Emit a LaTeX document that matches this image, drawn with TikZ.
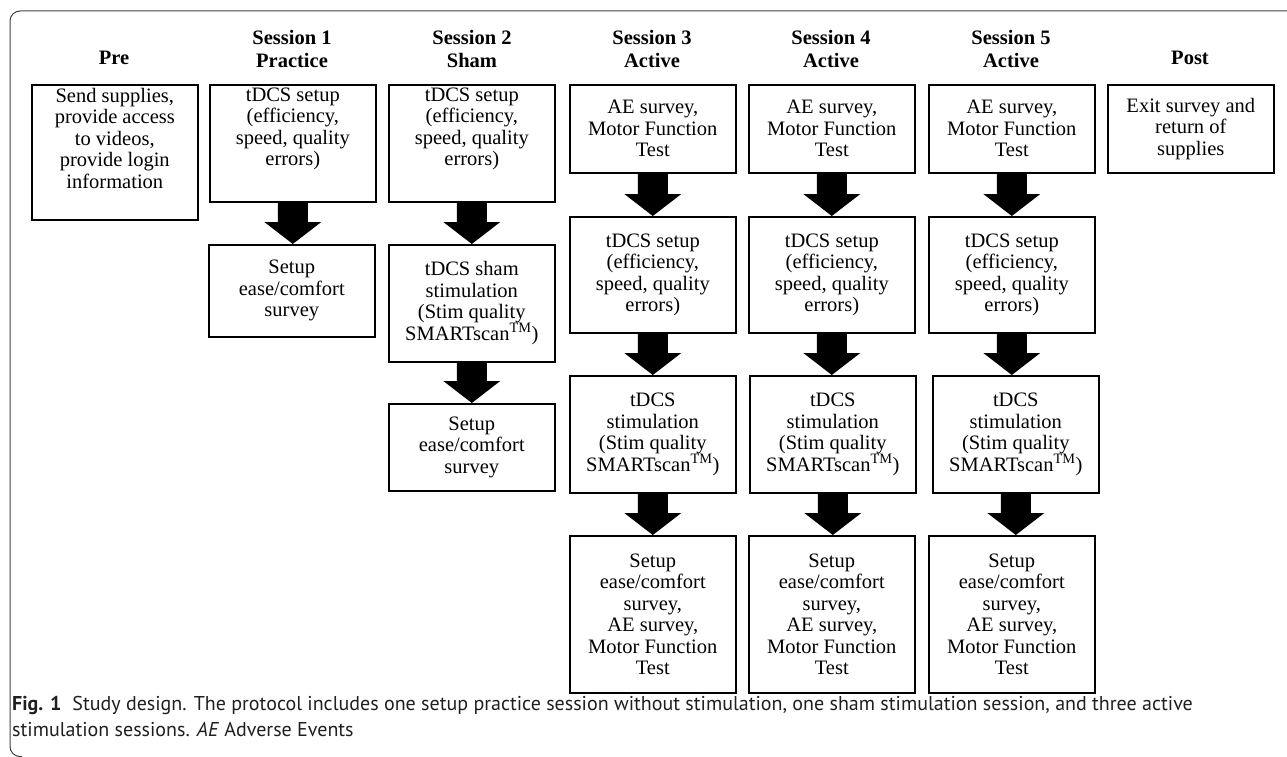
\documentclass[tikz,border=0pt]{standalone}
\usepackage{fontspec}
\setmainfont{Liberation Serif}
\newfontfamily\capfont{PT Sans}
\usetikzlibrary{calc}
% top-aligned box
\newcommand\bx[5]{\node[box] (#1) at (#2,#3) {\parbox[c][#4pt][t]{166pt}{\centering\vspace*{3pt}#5}};}
% vertically centred box
\newcommand\cbx[5]{\node[box, minimum width=166pt, minimum height=#4pt, align=center] (#1) at (#2,#3) {#5};}
\newcommand\bigarr[2]{\fill ($(#1.south)+(-15,0)$) -- ($(#1.south |- #2.north)+(-15,-22)$) -- ($(#1.south |- #2.north)+(-28.5,-22)$) -- (#1.south |- #2.north) -- ($(#1.south |- #2.north)+(28.5,-22)$) -- ($(#1.south |- #2.north)+(15,-22)$) -- ($(#1.south)+(15,0)$) -- cycle;}
\begin{document}
\begin{tikzpicture}[x=1pt,y=-1pt,
  box/.style={draw, line width=1.6pt, inner sep=0pt, anchor=north west, font=\fontsize{20.5}{21.5}\selectfont},
  head/.style={font=\fontsize{20.5}{23}\selectfont\bfseries, align=center, inner sep=0pt}]
\useasboundingbox (0,0) rectangle (1287,757);
\draw[line width=1pt, black!75, rounded corners=10pt] (1287,11) -- (10,11) -- (10,756.5) -- (22,756.5);
% headers
\node[head] (hpre) at (114,58) {Pre};
\node[head] (h1) at (292,48.5) {Session 1\\Practice};
\node[head] (h2) at (472,48.5) {Session 2\\Sham};
\node[head] (h3) at (652,48.5) {Session 3\\Active};
\node[head] (h4) at (831,48.5) {Session 4\\Active};
\node[head] (h5) at (1011,48.5) {Session 5\\Active};
\node[head] (hpost) at (1190,58) {Post};
% boxes
\bx{pre}{31}{84}{135}{Send supplies,\\provide access\\to videos,\\provide login\\information}
\bx{s1a}{209}{84}{117}{tDCS setup\\(efficiency,\\speed, quality\\errors)}
\cbx{s1b}{208}{244}{92}{Setup\\ease/comfort\\survey}
\bx{s2a}{388}{84}{117}{tDCS setup\\(efficiency,\\speed, quality\\errors)}
\cbx{s2b}{388}{244}{117}{tDCS sham\\stimulation\\(Stim quality\\SMARTscan\textsuperscript{TM})}
\cbx{s2c}{388}{403}{87}{Setup\\ease/comfort\\survey}
\cbx{s3a}{569}{84}{88}{AE survey,\\Motor Function\\Test}
\cbx{s3b}{569}{216}{116}{tDCS setup\\(efficiency,\\speed, quality\\errors)}
\cbx{s3c}{569}{375}{117}{tDCS\\stimulation\\(Stim quality\\SMARTscan\textsuperscript{TM})}
\cbx{s3d}{569}{535}{157}{Setup\\ease/comfort\\survey,\\AE survey,\\Motor Function\\Test}
\cbx{s4a}{748}{84}{88}{AE survey,\\Motor Function\\Test}
\cbx{s4b}{748}{216}{116}{tDCS setup\\(efficiency,\\speed, quality\\errors)}
\cbx{s4c}{749}{375}{117}{tDCS\\stimulation\\(Stim quality\\SMARTscan\textsuperscript{TM})}
\cbx{s4d}{748}{535}{157}{Setup\\ease/comfort\\survey,\\AE survey,\\Motor Function\\Test}
\cbx{s5a}{928}{84}{88}{AE survey,\\Motor Function\\Test}
\cbx{s5b}{928}{216}{116}{tDCS setup\\(efficiency,\\speed, quality\\errors)}
\cbx{s5c}{932}{375}{117}{tDCS\\stimulation\\(Stim quality\\SMARTscan\textsuperscript{TM})}
\cbx{s5d}{928}{535}{157}{Setup\\ease/comfort\\survey,\\AE survey,\\Motor Function\\Test}
\cbx{post}{1107}{84}{88}{Exit survey and\\return of\\supplies}
% arrows
\bigarr{s1a}{s1b}
\bigarr{s2a}{s2b}
\bigarr{s2b}{s2c}
\bigarr{s3a}{s3b}
\bigarr{s3b}{s3c}
\bigarr{s3c}{s3d}
\bigarr{s4a}{s4b}
\bigarr{s4b}{s4c}
\bigarr{s4c}{s4d}
\bigarr{s5a}{s5b}
\bigarr{s5b}{s5c}
\bigarr{s5c}{s5d}
% caption
\node[anchor=north west, inner sep=0pt, align=left, text=black!88, font=\capfont\fontsize{20}{26}\selectfont] (cap) at (12,696.5) {\textbf{Fig. 1}\hspace{0.55em}Study design. The protocol includes one setup practice session without stimulation, one sham stimulation session, and three active\\stimulation sessions. \textit{AE} Adverse Events};
\end{tikzpicture}
\end{document}
